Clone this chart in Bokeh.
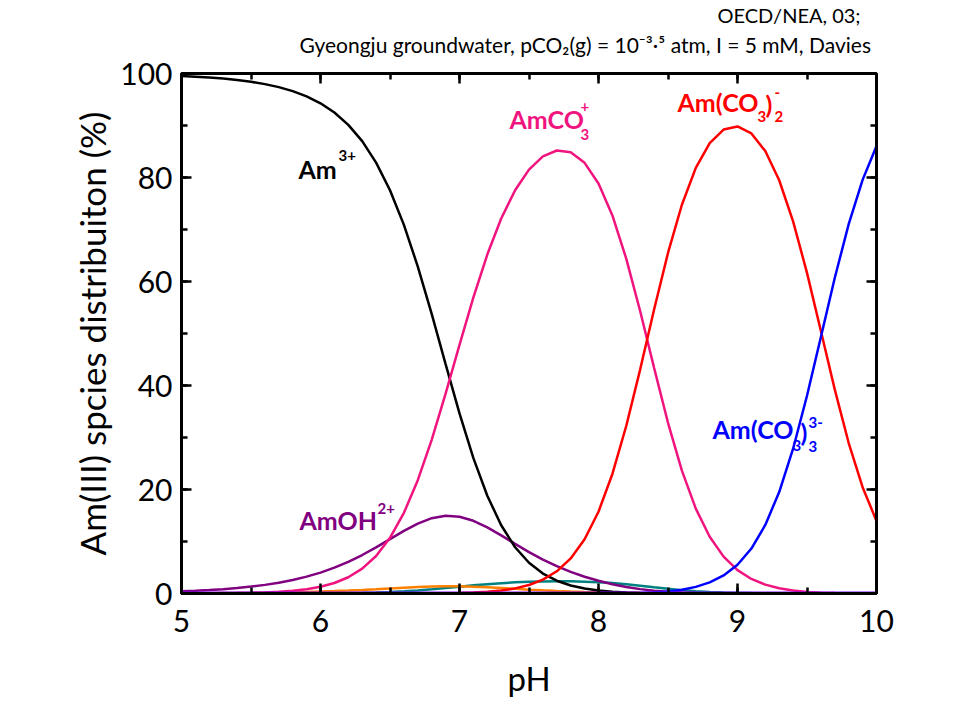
from bokeh.plotting import figure
from bokeh.models import Label, LinearAxis, SingleIntervalTicker, Range1d
from bokeh.layouts import column
from bokeh.embed import file_html
from bokeh.resources import INLINE

# ---------------- data ----------------
ph = [5.0, 5.1, 5.2, 5.3, 5.4, 5.5, 5.6, 5.7, 5.8, 5.9,
      6.0, 6.1, 6.2, 6.3, 6.4, 6.5, 6.6, 6.7, 6.8, 6.9,
      7.0, 7.1, 7.2, 7.3, 7.4, 7.5, 7.6, 7.7, 7.8, 7.9,
      8.0, 8.1, 8.2, 8.3, 8.4, 8.5, 8.6, 8.7, 8.8, 8.9,
      9.0, 9.1, 9.2, 9.3, 9.4, 9.5, 9.6, 9.7, 9.8, 9.9,
      10.0]

am3 = [99.52, 99.39, 99.23, 99.02, 98.75, 98.41, 97.96, 97.38, 96.61, 95.60,
       94.27, 92.49, 90.13, 86.99, 82.87, 77.56, 70.89, 62.88, 53.78, 44.12,
       34.63, 26.03, 18.80, 13.12, 8.90, 5.91, 3.84, 2.46, 1.54, 0.95,
       0.57, 0.33, 0.19, 0.10, 0.05, 0.02, 0.01, 0.0, 0.0, 0.0,
       0.0, 0.0, 0.0, 0.0, 0.0, 0.0, 0.0, 0.0, 0.0, 0.0,
       0.0]

amoh = [0.42, 0.53, 0.67, 0.84, 1.06, 1.33, 1.66, 2.08, 2.60, 3.24,
        4.02, 4.97, 6.09, 7.40, 8.88, 10.46, 12.04, 13.44, 14.48, 14.95,
        14.77, 13.98, 12.71, 11.17, 9.54, 7.97, 6.52, 5.25, 4.16, 3.22,
        2.44, 1.79, 1.25, 0.84, 0.53, 0.32, 0.18, 0.10, 0.05, 0.03,
        0.01, 0.0, 0.0, 0.0, 0.0, 0.0, 0.0, 0.0, 0.0, 0.0,
        0.0]

amco3 = [0.01, 0.02, 0.03, 0.05, 0.09, 0.14, 0.21, 0.34, 0.53, 0.83,
         1.30, 2.02, 3.13, 4.78, 7.22, 10.71, 15.51, 21.80, 29.56, 38.43,
         47.81, 56.94, 65.18, 72.11, 77.55, 81.51, 84.05, 85.19, 84.84, 82.82,
         78.85, 72.70, 64.36, 54.27, 43.39, 32.83, 23.64, 16.33, 10.90, 7.09,
         4.50, 2.80, 1.70, 1.00, 0.57, 0.31, 0.16, 0.08, 0.04, 0.02,
         0.01]

amco3_2 = [0.0, 0.0, 0.0, 0.0, 0.0, 0.0, 0.0, 0.0, 0.0, 0.0,
           0.0, 0.0, 0.0, 0.0, 0.0, 0.0, 0.0, 0.01, 0.02, 0.05,
           0.10, 0.18, 0.33, 0.57, 0.98, 1.63, 2.66, 4.27, 6.74, 10.43,
           15.73, 22.99, 32.26, 43.11, 54.62, 65.49, 74.76, 81.84, 86.61, 89.22,
           89.82, 88.47, 85.08, 79.47, 71.57, 61.66, 50.49, 39.20, 28.94, 20.45,
           13.95]

amco3_3 = [0.0, 0.0, 0.0, 0.0, 0.0, 0.0, 0.0, 0.0, 0.0, 0.0,
           0.0, 0.0, 0.0, 0.0, 0.0, 0.0, 0.0, 0.0, 0.0, 0.0,
           0.0, 0.0, 0.0, 0.0, 0.0, 0.0, 0.0, 0.0, 0.0, 0.0,
           0.01, 0.02, 0.05, 0.11, 0.21, 0.40, 0.73, 1.27, 2.13, 3.47,
           5.54, 8.65, 13.18, 19.51, 27.84, 38.02, 49.34, 60.72, 71.03, 79.54,
           86.04]

orange_sp = [0.04, 0.05, 0.06, 0.08, 0.10, 0.12, 0.16, 0.19, 0.24, 0.30,
             0.38, 0.46, 0.57, 0.69, 0.83, 0.98, 1.12, 1.25, 1.35, 1.40,
             1.38, 1.30, 1.19, 1.04, 0.89, 0.74, 0.61, 0.49, 0.39, 0.30,
             0.23, 0.17, 0.12, 0.08, 0.05, 0.03, 0.02, 0.01, 0.01, 0.0,
             0.0, 0.0, 0.0, 0.0, 0.0, 0.0, 0.0, 0.0, 0.0, 0.0,
             0.0]

teal_sp = [0.0, 0.0, 0.0, 0.0, 0.0, 0.0, 0.01, 0.01, 0.01, 0.02,
           0.04, 0.06, 0.09, 0.13, 0.20, 0.29, 0.43, 0.60, 0.81, 1.06,
           1.32, 1.57, 1.80, 1.99, 2.14, 2.25, 2.31, 2.35, 2.34, 2.28,
           2.17, 2.00, 1.77, 1.49, 1.19, 0.90, 0.65, 0.45, 0.30, 0.20,
           0.12, 0.08, 0.05, 0.03, 0.02, 0.01, 0.0, 0.0, 0.0, 0.0,
           0.0]

ph_violet = [5.0, 10.0]
violet_sp = [0.0, 0.0]

x_ticks_interval = 1
y_ticks_interval = 20

title_1 = "OECD/NEA, 03;"
title_2 = "Gyeongju groundwater, pCO\u2082(g) = 10\u207b\u00b3\u00b7\u2075 atm, I = 5 mM, Davies"

FONT = "Lato"
K = 0.36   # empirical baseline correction (fraction of font size)

# ---------------- layout geometry (page px) ----------------
W = 946
HT = 59                      # height of the title strip
H = 705 - HT                 # main figure height
FL, FT, FR, FB = 181, 73, 876, 593   # frame edges in page px

# ---------------- title strip (its own small figure) ----------------
# its frame is aligned with the main frame by the column layout, so map page x directly
tfig = figure(width=W, height=HT, output_backend="svg", toolbar_location=None,
              x_range=Range1d(FL, FR), y_range=Range1d(HT, 0),
              x_axis_location=None, y_axis_location=None,
              min_border_left=0, min_border_right=0, min_border_top=0, min_border_bottom=0)
tfig.grid.visible = False
tfig.outline_line_color = None
tfig.background_fill_color = "white"
tfig.border_fill_color = "white"


def put_t(text, px, py, size):
    tfig.add_layout(Label(x=px, y=py - K * size, text=text, text_font=FONT,
                          text_font_size=f"{size}px", text_color="black",
                          text_align="left", text_baseline="alphabetic"))


put_t(title_1, 717, 22, 20)
put_t(title_2, 299, 52, 21)

# ---------------- main figure ----------------
p = figure(width=W, height=H, output_backend="svg", toolbar_location=None,
           x_range=Range1d(5, 10), y_range=Range1d(0, 100),
           min_border_left=FL, min_border_top=FT - HT,
           min_border_right=W - FR, min_border_bottom=H - (FB - HT))
p.grid.visible = False
p.outline_line_color = "black"
p.outline_line_width = 3
p.background_fill_color = "white"
p.border_fill_color = "white"

p.add_layout(LinearAxis(fixed_location=100), "above")
p.add_layout(LinearAxis(fixed_location=10), "right")

for ax in p.xaxis:
    ax.ticker = SingleIntervalTicker(interval=x_ticks_interval, num_minor_ticks=2)
for ax in p.yaxis:
    ax.ticker = SingleIntervalTicker(interval=y_ticks_interval, num_minor_ticks=2)

for ax in p.axis:
    ax.axis_line_width = 3
    ax.axis_line_color = "black"
    ax.major_tick_line_width = 2.5
    ax.minor_tick_line_width = 2.5
    ax.major_tick_line_color = "black"
    ax.minor_tick_line_color = "black"
    ax.major_tick_in = 10
    ax.major_tick_out = 0
    ax.minor_tick_in = 6
    ax.minor_tick_out = 0
    ax.major_label_text_font = FONT
    ax.major_label_text_font_size = "30px"
    ax.major_label_text_color = "black"

p.above[0].major_label_text_color = None
p.right[0].major_label_text_color = None

xb = p.below[0]
xb.axis_label = "pH"
xb.axis_label_text_font = FONT
xb.axis_label_text_font_size = "33px"
xb.axis_label_text_font_style = "normal"
xb.axis_label_text_color = "black"
xb.major_label_standoff = 16
xb.axis_label_standoff = 23

yl = p.left[0]
yl.axis_label = "Am(III) spcies distribuiton (%)"
yl.axis_label_text_font = FONT
yl.axis_label_text_font_size = "35px"
yl.axis_label_text_font_style = "normal"
yl.axis_label_text_color = "black"
yl.major_label_standoff = 9
yl.axis_label_standoff = 4

# ---------------- curves ----------------
LW = 2.5
p.line(ph, teal_sp, line_color="#008080", line_width=LW)
p.line(ph, orange_sp, line_color="#FF8000", line_width=LW)
p.line(ph, amoh, line_color="#800080", line_width=LW)
p.line(ph, am3, line_color="black", line_width=LW)
p.line(ph, amco3, line_color="#F0147F", line_width=LW)
p.line(ph, amco3_2, line_color="#FF0000", line_width=LW)
p.line(ph, amco3_3, line_color="#0000FF", line_width=LW)
p.line(ph_violet, violet_sp, line_color="#8000FF", line_width=4)


# ---------------- species labels (target page-pixel baselines) ----------------
def put(text, px, py, size, color, bold=True):
    # screen units are measured from the frame's bottom-left corner
    p.add_layout(Label(x=px - FL, y=FB - (py - K * size), x_units="screen", y_units="screen",
                       text=text, text_font=FONT, text_font_size=f"{size}px",
                       text_color=color, text_align="left",
                       text_baseline="alphabetic",
                       text_font_style="bold" if bold else "normal"))


B, S = 25, 15
# Am3+
put("Am", 298, 177, B, "black")
put("3+", 338, 160, S, "black")
# AmCO3+
put("AmCO", 509, 127, B, "#F0147F")
put("+", 580, 111, S, "#F0147F")
put("3", 580, 139, S, "#F0147F")
# Am(CO3)2-
put("Am(CO", 677, 110, B, "#FF0000")
put("3", 757, 121, S, "#FF0000")
put(")", 765, 112, B, "#FF0000")
put("-", 774, 97, S, "#FF0000")
put("2", 774, 121, S, "#FF0000")
# Am(CO3)3 3-
put("Am(CO", 712, 437, B, "#0000FF")
put("3", 792, 450, S, "#0000FF")
put(")", 800, 440, B, "#0000FF")
put("3-", 808, 427, S, "#0000FF")
put("3", 808, 451, S, "#0000FF")
# AmOH2+
put("AmOH", 299, 528, B, "#800080")
put("2+", 377, 513, S, "#800080")

open("out.html", "w").write(file_html(column(tfig, p, spacing=0), INLINE))
